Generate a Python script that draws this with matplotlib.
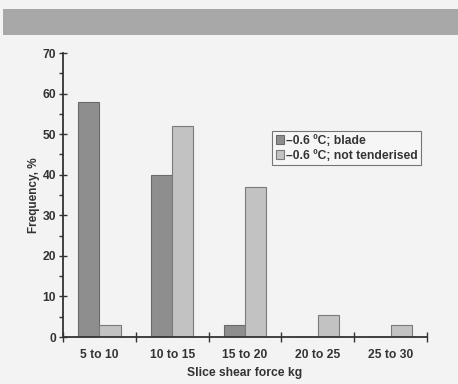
import matplotlib
matplotlib.use("Agg")
import matplotlib.pyplot as plt
from matplotlib.patches import Rectangle
from matplotlib.ticker import MultipleLocator, FixedLocator
import numpy as np

categories = ["5 to 10", "10 to 15", "15 to 20", "20 to 25", "25 to 30"]
blade = [58, 40, 3, 0, 0]
not_tenderised = [3, 52, 37, 5.5, 3]
series_labels = ["\u20130.6 \u00baC; blade", "\u20130.6 \u00baC; not tenderised"]
y_ticks = [0, 10, 20, 30, 40, 50, 60, 70]

plt.rcParams['font.family'] = ['Liberation Sans', 'DejaVu Sans']
plt.rcParams['font.weight'] = 'bold'

W, H = 458, 384
fig = plt.figure(figsize=(W / 100, H / 100), dpi=100)
fig.patch.set_facecolor('#f3f3f3')
# top grey band
fig.patches.append(Rectangle((3 / W, 1 - 35 / H), 1, 26 / H, transform=fig.transFigure,
                             facecolor='#a8a8a8', edgecolor='none', zorder=0))

ax = fig.add_axes([63 / W, 1 - 337 / H, (427 - 63) / W, (337 - 53) / H])
ax.set_facecolor('none')

x = np.arange(len(categories))
bw = 0.29
ax.bar(x - bw / 2, blade, width=bw, color='#8e8e8e', edgecolor='#6a6a6a', linewidth=0.8,
       label=series_labels[0], zorder=2)
ax.bar(x + bw / 2, not_tenderised, width=bw, color='#c2c2c2', edgecolor='#7a7a7a', linewidth=0.8,
       label=series_labels[1], zorder=2)

ax.set_xlim(-0.5, len(categories) - 0.5)
ax.set_ylim(0, 70)
ax.set_yticks(y_ticks)
ax.yaxis.set_minor_locator(MultipleLocator(5))
ax.set_xticks(x)
ax.set_xticklabels(categories, fontsize=8.7, fontweight='bold', color='#333333')
ax.xaxis.set_minor_locator(FixedLocator(np.arange(-0.5, len(categories) + 0.5, 1)))
ax.tick_params(axis='x', which='major', length=0, pad=9)
ax.tick_params(axis='x', which='minor', length=7, direction='inout', width=1, color='#333333')
ax.tick_params(axis='y', which='major', length=6, direction='inout', width=1, color='#333333',
               labelsize=8.7, labelcolor='#333333', pad=2)
ax.tick_params(axis='y', which='minor', length=3, direction='out', width=1, color='#333333')
for lab in ax.get_yticklabels():
    lab.set_fontweight('bold')

for s in ['top', 'right']:
    ax.spines[s].set_visible(False)
for s in ['left', 'bottom']:
    ax.spines[s].set_color('#333333')
    ax.spines[s].set_linewidth(1.3)
    ax.spines[s].set_zorder(3)

ax.set_ylabel("Frequency, %", fontsize=8.5, fontweight='bold', color='#333333', labelpad=2)
ax.set_xlabel("Slice shear force kg", fontsize=8.7, fontweight='bold', color='#333333', labelpad=4)

leg = ax.legend(loc='upper left', bbox_to_anchor=((272 - 63) / (427 - 63), 1 - (131 - 53) / (337 - 53)),
                fontsize=8.7, frameon=True, fancybox=False, handlelength=0.7, handleheight=0.7,
                handletextpad=0.15, borderpad=0.3, labelspacing=0.25, borderaxespad=0)
leg.get_frame().set_edgecolor('#555555')
leg.get_frame().set_facecolor('#f7f7f7')
leg.get_frame().set_linewidth(0.8)
for t in leg.get_texts():
    t.set_fontweight('bold')
    t.set_color('#333333')

fig.savefig("out.png", dpi=100)
